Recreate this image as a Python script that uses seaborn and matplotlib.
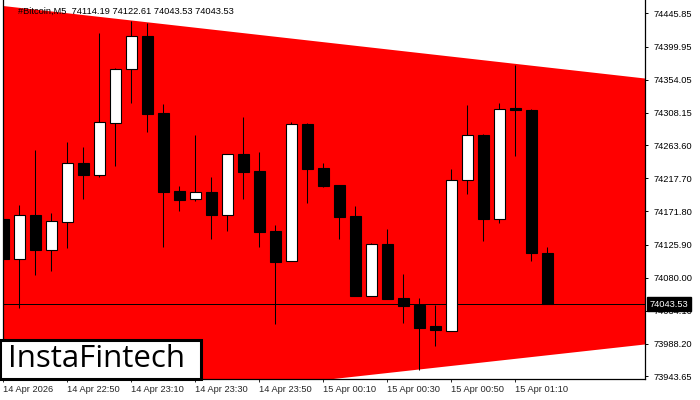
import matplotlib
matplotlib.use("Agg")
import matplotlib.pyplot as plt
from matplotlib.patches import Rectangle
import seaborn as sns

# ---- data ----
opens = [74161.3, 74105.9, 74166.8, 74118.3, 74157.5, 74238.4, 74222.6, 74294.6, 74368.5, 74414.7,
         74307.6, 74199.6, 74188.5, 74198.2, 74167.2, 74250.9, 74227.3, 74144.7, 74102.7, 74292.8,
         74231.9, 74207.9, 74165.4, 74055.1, 74126.7, 74051.9, 74042.2, 74013.1, 74006.6, 74214.9,
         74277.2, 74161.7, 74314.5, 74312.2, 74114.19]
highs = [74275.2, 74180.7, 74256.8, 74170.0, 74267.9, 74261.0, 74418.4, 74370.8, 74435.4, 74432.2,
         74320.5, 74207.0, 74277.6, 74219.4, 74251.5, 74302.5, 74254.0, 74153.0, 74295.6, 74293.5,
         74238.4, 74208.0, 74179.3, 74127.6, 74147.4, 74085.1, 74051.9, 74041.8, 74230.5, 74319.1,
         74279.0, 74321.5, 74374.5, 74313.0, 74122.61]
lows = [74095.2, 74038.0, 74083.7, 74089.7, 74121.1, 74189.0, 74219.8, 74235.1, 74321.5, 74282.1,
        74122.9, 74172.3, 74186.2, 74133.6, 74144.7, 74189.0, 74122.9, 74015.2, 74102.7, 74183.8,
        74206.0, 74134.0, 74055.1, 74055.1, 74050.9, 74017.7, 73952.2, 73985.8, 74006.6, 74196.3,
        74130.8, 74156.1, 74248.9, 74103.1, 74043.53]
closes = [74105.9, 74166.8, 74118.3, 74158.5, 74238.4, 74222.2, 74295.2, 74368.5, 74414.7, 74306.7,
          74199.1, 74187.6, 74198.2, 74166.8, 74250.9, 74226.8, 74143.7, 74102.2, 74292.4, 74230.5,
          74207.0, 74164.5, 74055.1, 74126.2, 74050.9, 74041.2, 74010.8, 74008.0, 74214.9, 74277.2,
          74161.7, 74313.2, 74312.2, 74114.6, 74043.53]

x_tick_pos = [0, 4, 8, 12, 16, 20, 24, 28, 32]
x_tick_labels = ["14 Apr 2026", "14 Apr 22:50", "14 Apr 23:10", "14 Apr 23:30", "14 Apr 23:50",
                 "15 Apr 00:10", "15 Apr 00:30", "15 Apr 00:50", "15 Apr 01:10"]
y_ticks = [74445.85, 74399.95, 74354.05, 74308.15, 74263.60, 74217.70, 74171.80,
           74125.90, 74080.00, 74034.10, 73988.20, 73943.65]

tri_x = [-0.05, 40.1]
tri_upper = [74456.3, 74355.8]
tri_lower = [73888.9, 73987.5]

current_price = 74043.53
title_text = "#Bitcoin,M5  74114.19 74122.61 74043.53 74043.53"

# ---- style ----
sns.set_style("white")
plt.rcParams['font.family'] = ['Liberation Sans', 'DejaVu Sans']
FS = 6.7

fig = plt.figure(figsize=(7, 4), dpi=100)
ax = fig.add_axes([2.5 / 700, 21 / 400, 642.5 / 700, 379 / 400])
ax.set_facecolor("white")

ax.fill_between(tri_x, tri_lower, tri_upper, color="#FF0000", linewidth=0, zorder=1)
ax.axhline(current_price, color="black", linewidth=0.7, zorder=1.5)

n = len(opens)
xs = list(range(n))
ax.vlines(xs, lows, highs, color="black", linewidth=0.75, zorder=2)
bottoms = [min(o, c) for o, c in zip(opens, closes)]
heights = [max(abs(c - o), 1.2) for o, c in zip(opens, closes)]
fcs = ["white" if c > o else "black" for o, c in zip(opens, closes)]
ax.bar(xs, heights, bottom=bottoms, width=0.67, color=fcs, edgecolor="black",
       linewidth=0.8, zorder=3)

ax.set_xlim(-0.05, 40.1)
ax.set_ylim(73939.7, 74464.5)

ax.yaxis.tick_right()
ax.set_yticks(y_ticks)
ax.set_yticklabels([f"{v:.2f}" for v in y_ticks], fontsize=FS)
ax.tick_params(axis="y", which="both", right=True, left=False, length=2.5, width=0.7,
               pad=4, direction="out", colors="black")
ax.set_xticks(x_tick_pos)
ax.set_xticklabels(x_tick_labels, fontsize=FS, ha="left")
ax.tick_params(axis="x", bottom=True, length=2.5, width=0.7, pad=1.5, direction="out")

for s in ["left", "right", "bottom"]:
    ax.spines[s].set_visible(True)
    ax.spines[s].set_color("black")
    ax.spines[s].set_linewidth(0.9)
ax.spines["top"].set_visible(False)
ax.grid(False)

# current price label on the axis
ax.text(1.007, current_price, f"{current_price:.2f}", transform=ax.get_yaxis_transform(),
        ha="left", va="center", fontsize=FS, color="white", zorder=10, clip_on=False,
        bbox=dict(boxstyle="square,pad=0.3", fc="black", ec="black"))

# title
fig.text(18 / 700, 1 - 11 / 400, title_text, fontsize=FS, ha="left", va="center", color="black")

# logo box
fig.add_artist(Rectangle((0, 21 / 400), 201 / 700, 39 / 400, transform=fig.transFigure,
                         facecolor="white", edgecolor="black", linewidth=2.2, zorder=5))
fig.text(8 / 700, 1 - 359 / 400, "InstaFintech", fontsize=22.5, family=["Open Sans", "DejaVu Sans"],
         ha="left", va="center", color="black", zorder=6)

fig.savefig("out.png", dpi=100, facecolor="white")
